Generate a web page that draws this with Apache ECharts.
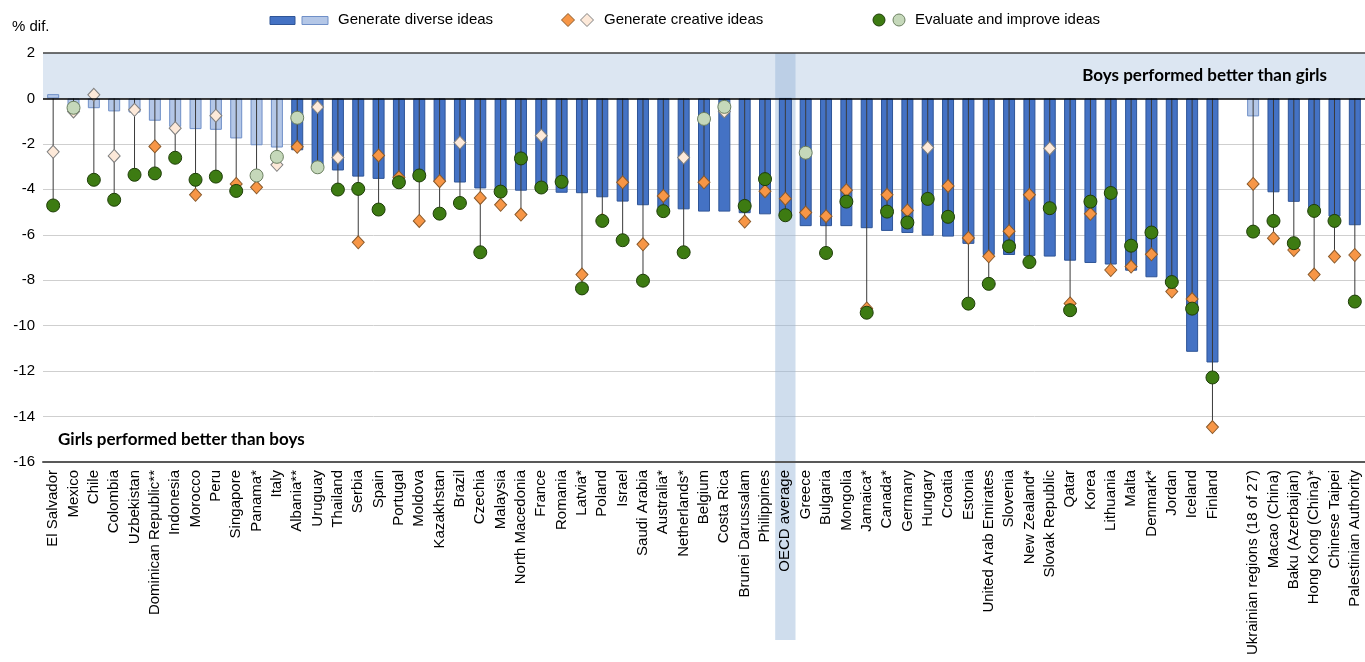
<!DOCTYPE html>
<html><head><meta charset="utf-8">
<script src="https://cdn.jsdelivr.net/npm/echarts@6/dist/echarts.min.js"></script>
<style>html,body{margin:0;padding:0;background:#fff}#c{width:1365px;height:662px}</style>
</head><body><div id="c"></div>
<script>
const categories = ["El Salvador","Mexico","Chile","Colombia","Uzbekistan","Dominican Republic**","Indonesia","Morocco","Peru","Singapore","Panama*","Italy","Albania**","Uruguay","Thailand","Serbia","Spain","Portugal","Moldova","Kazakhstan","Brazil","Czechia","Malaysia","North Macedonia","France","Romania","Latvia*","Poland","Israel","Saudi Arabia","Australia*","Netherlands*","Belgium","Costa Rica","Brunei Darussalam","Philippines","OECD average","Greece","Bulgaria","Mongolia","Jamaica*","Canada*","Germany","Hungary","Croatia","Estonia","United Arab Emirates","Slovenia","New Zealand*","Slovak Republic","Qatar","Korea","Lithuania","Malta","Denmark*","Jordan","Iceland","Finland","","Ukrainian regions (18 of 27)","Macao (China)","Baku (Azerbaijan)","Hong Kong (China)*","Chinese Taipei","Palestinian Authority"];

// Generate diverse ideas (bars)
const diverse = [0.19,-0.40,-0.43,-0.57,-0.62,-0.98,-1.25,-1.35,-1.38,-1.76,-2.06,-2.16,-2.28,-3.05,-3.17,-3.44,-3.54,-3.56,-3.58,-3.66,-3.70,-3.96,-4.02,-4.06,-4.10,-4.15,-4.17,-4.35,-4.54,-4.70,-4.83,-4.88,-4.98,-4.98,-5.05,-5.10,-5.20,-5.62,-5.62,-5.62,-5.71,-5.83,-5.92,-6.04,-6.08,-6.40,-6.89,-6.89,-6.93,-6.96,-7.14,-7.24,-7.31,-7.58,-7.87,-8.10,-11.15,-11.62,null,-0.79,-4.13,-4.55,-4.95,-5.20,-5.58];
const diverseSig = [0,0,0,0,0,0,0,0,0,0,0,0,1,1,1,1,1,1,1,1,1,1,1,1,1,1,1,1,1,1,1,1,1,1,1,1,1,1,1,1,1,1,1,1,1,1,1,1,1,1,1,1,1,1,1,1,1,1,0,0,1,1,1,1,1];

// Generate creative ideas (diamonds)
const creative = [-2.35,-0.57,0.16,-2.53,-0.50,-2.11,-1.31,-4.24,-0.76,-3.76,-3.91,-2.92,-2.13,-0.38,-2.60,-6.33,-2.51,-3.47,-5.39,-3.64,-1.94,-4.38,-4.68,-5.11,-1.64,-3.65,-7.75,-5.35,-3.69,-6.42,-4.29,-2.60,-3.69,-0.57,-5.42,-4.08,-4.41,-5.02,-5.18,-4.04,-9.24,-4.24,-4.93,-2.16,-3.85,-6.14,-6.95,-5.84,-4.24,-2.20,-9.02,-5.08,-7.55,-7.40,-6.86,-8.50,-8.83,-14.46,null,-3.76,-6.15,-6.67,-7.75,-6.96,-6.89];
const creativeSig = [0,0,0,0,0,1,0,1,0,1,1,0,1,0,0,1,1,1,1,1,0,1,1,1,0,1,1,1,1,1,1,0,1,0,1,1,1,1,1,1,1,1,1,0,1,1,1,1,1,0,1,1,1,1,1,1,1,1,0,1,1,1,1,1,1];

// Evaluate and improve ideas (circles)
const evaluate = [-4.71,-0.41,-3.58,-4.46,-3.36,-3.30,-2.61,-3.58,-3.44,-4.07,-3.39,-2.57,-0.85,-3.03,-4.01,-3.98,-4.89,-3.69,-3.39,-5.07,-4.60,-6.77,-4.10,-2.64,-3.92,-3.67,-8.36,-5.39,-6.24,-8.02,-4.96,-6.77,-0.90,-0.37,-4.73,-3.55,-5.14,-2.39,-6.80,-4.54,-9.43,-4.98,-5.46,-4.42,-5.21,-9.03,-8.16,-6.51,-7.20,-4.83,-9.32,-4.54,-4.16,-6.48,-5.90,-8.08,-9.25,-12.28,null,-5.86,-5.39,-6.37,-4.95,-5.39,-8.94];
const evaluateSig = [1,0,1,1,1,1,1,1,1,1,0,0,0,0,1,1,1,1,1,1,1,1,1,1,1,1,1,1,1,1,1,1,0,0,1,1,1,0,1,1,1,1,1,1,1,1,1,1,1,1,1,1,1,1,1,1,1,1,0,1,1,1,1,1,1];

const highlightCategory = "OECD average";
const yMin = -16, yMax = 2, yStep = 2;
const boysBand = [2, 0];
const BAR_W = 12;

const C = {
  barDark: '#4472C4', barDarkB: '#2F5597', barLight: '#B4C7E7', barLightB: '#6F8FC7',
  diaDark: '#F79646', diaDarkB: '#8A5A2B', diaLight: '#FDE9D9', diaLightB: '#7F7F7F',
  cirDark: '#3D7B12', cirDarkB: '#1E3D08', cirLight: '#C5D8BA', cirLightB: '#6B7F60'
};
const FONT = "'Liberation Sans', Arial, sans-serif";

const barData = diverse.map((v, i) => v === null ? '-' : ({
  value: v,
  itemStyle: diverseSig[i] ? {color: C.barDark, borderColor: C.barDarkB} : {color: C.barLight, borderColor: C.barLightB}
}));
const diaData = creative.map((v, i) => v === null ? '-' : ({
  value: v,
  itemStyle: creativeSig[i] ? {color: C.diaDark, borderColor: C.diaDarkB} : {color: C.diaLight, borderColor: C.diaLightB}
}));
const cirData = evaluate.map((v, i) => v === null ? '-' : ({
  value: v,
  itemStyle: evaluateSig[i] ? {color: C.cirDark, borderColor: C.cirDarkB} : {color: C.cirLight, borderColor: C.cirLightB}
}));
const hi = categories.indexOf(highlightCategory);
// connector data: [categoryIndex, top, bottom, barValue, isHighlight]
const lineData = [];
categories.forEach((c, i) => {
  if (creative[i] === null || evaluate[i] === null) return;
  lineData.push([i, Math.max(0, creative[i], evaluate[i]), Math.min(0, creative[i], evaluate[i]), diverse[i], i === hi ? 1 : 0]);
});
// background shapes: [kind, categoryIndex, fromValue, toValue, barValue]
const bgData = [[0, 0, boysBand[0], boysBand[1], 0], [1, hi, yMax, yMin, diverse[hi]]];

const chart = echarts.init(document.getElementById('c'), null, {renderer: 'canvas'});

function graphics() {
  const g = [];
  const cy = 20;
  g.push({type: 'rect', z: 100, shape: {x: 270, y: 16.5, width: 25, height: 8}, style: {fill: C.barDark, stroke: C.barDarkB, lineWidth: 1}});
  g.push({type: 'rect', z: 100, shape: {x: 302, y: 16.5, width: 26, height: 8}, style: {fill: C.barLight, stroke: C.barLightB, lineWidth: 1}});
  g.push({type: 'text', z: 100, x: 338, y: cy, style: {text: 'Generate diverse ideas', font: '15px ' + FONT, fill: '#000', verticalAlign: 'middle'}});
  const dia = (x, fill, stroke) => ({type: 'polygon', z: 100, shape: {points: [[x, cy - 6.5], [x + 6.5, cy], [x, cy + 6.5], [x - 6.5, cy]]}, style: {fill, stroke, lineWidth: 1}});
  g.push(dia(568, C.diaDark, C.diaDarkB));
  g.push(dia(587, C.diaLight, C.diaLightB));
  g.push({type: 'text', z: 100, x: 604, y: cy, style: {text: 'Generate creative ideas', font: '15px ' + FONT, fill: '#000', verticalAlign: 'middle'}});
  g.push({type: 'circle', z: 100, shape: {cx: 879, cy: cy, r: 6}, style: {fill: C.cirDark, stroke: C.cirDarkB, lineWidth: 1}});
  g.push({type: 'circle', z: 100, shape: {cx: 899, cy: cy, r: 6}, style: {fill: C.cirLight, stroke: C.cirLightB, lineWidth: 1}});
  g.push({type: 'text', z: 100, x: 915, y: cy, style: {text: 'Evaluate and improve ideas', font: '15px ' + FONT, fill: '#000', verticalAlign: 'middle'}});
  g.push({type: 'text', z: 100, x: 12, y: 27, style: {text: '% dif.', font: '15px ' + FONT, fill: '#000', verticalAlign: 'middle'}});
  g.push({type: 'text', z: 100, x: 1327, y: 76, style: {text: 'Boys performed better than girls', font: 'bold 17px Lato, sans-serif', fill: '#000', align: 'right', verticalAlign: 'middle'}});
  g.push({type: 'text', z: 100, x: 58, y: 440, style: {text: 'Girls performed better than boys', font: 'bold 17px Lato, sans-serif', fill: '#000', align: 'left', verticalAlign: 'middle'}});
  return g;
}

const BAND_FILL = 'rgba(149,179,215,0.45)';
const option = {
  animation: false,
  grid: {left: 43, right: -7, top: 53, bottom: 200, containLabel: false},
  xAxis: {
    type: 'category', data: categories,
    axisLine: {onZero: false, lineStyle: {color: '#595959', width: 2}},
    axisTick: {show: false},
    axisLabel: {rotate: 90, interval: 0, margin: 8, fontSize: 15, fontFamily: FONT, color: '#000'},
    splitLine: {show: false}
  },
  yAxis: {
    type: 'value', min: yMin, max: yMax, interval: yStep,
    axisLine: {show: false}, axisTick: {show: false},
    axisLabel: {fontSize: 15, fontFamily: FONT, color: '#000', margin: 8},
    splitLine: {lineStyle: {color: '#CFCFCF', width: 1}}
  },
  series: [
    {
      type: 'custom', name: 'background', data: bgData, z: 0, silent: true, clip: false,
      encode: {x: 1, y: [2, 3]},
      renderItem: function (params, api) {
        const kind = api.value(0);
        const a = api.coord([api.value(1), api.value(2)]);
        const b = api.coord([api.value(1), api.value(3)]);
        if (kind === 0) {
          const cs = params.coordSys;
          return {type: 'rect', shape: {x: cs.x, y: a[1], width: cs.width, height: b[1] - a[1]}, style: {fill: '#DCE6F2'}};
        }
        const w = api.size([1, 0])[0];
        const zero = api.coord([api.value(1), 0]);
        const barEnd = api.coord([api.value(1), api.value(4)]);
        const x0 = a[0] - w / 2, side = (w - BAR_W) / 2;
        const bottom = 640;
        return {type: 'group', children: [
          {type: 'rect', shape: {x: x0, y: a[1], width: w, height: zero[1] - a[1]}, style: {fill: BAND_FILL}},
          {type: 'rect', shape: {x: x0, y: zero[1], width: side, height: barEnd[1] - zero[1]}, style: {fill: BAND_FILL}},
          {type: 'rect', shape: {x: x0 + w - side, y: zero[1], width: side, height: barEnd[1] - zero[1]}, style: {fill: BAND_FILL}},
          {type: 'rect', shape: {x: x0, y: barEnd[1], width: w, height: bottom - barEnd[1]}, style: {fill: BAND_FILL}}
        ]};
      }
    },
    {
      type: 'bar', name: 'Generate diverse ideas', data: barData, barWidth: BAR_W, z: 10,
      itemStyle: {borderWidth: 1},
      markLine: {silent: true, symbol: 'none', label: {show: false}, animation: false, z: 20,
        data: [
          {yAxis: 0, lineStyle: {color: '#000', width: 1.5, type: 'solid'}},
          {yAxis: 2, lineStyle: {color: '#404040', width: 1.5, type: 'solid'}}
        ]}
    },
    {
      type: 'custom', name: 'range', data: lineData, z: 11,
      encode: {x: 0, y: [1, 2]},
      renderItem: function (params, api) {
        const idx = api.value(0);
        const a = api.coord([idx, api.value(1)]);
        const b = api.coord([idx, api.value(2)]);
        const children = [];
        if (api.value(4) === 1) {
          // highlighted column: re-draw its bar on top of the highlight band
          const z0 = api.coord([idx, 0]);
          const e = api.coord([idx, api.value(3)]);
          const sig = diverseSig[idx];
          children.push({type: 'rect', shape: {x: z0[0] - BAR_W / 2, y: Math.min(z0[1], e[1]), width: BAR_W, height: Math.abs(e[1] - z0[1])},
            style: {fill: sig ? C.barDark : C.barLight, stroke: sig ? C.barDarkB : C.barLightB, lineWidth: 1}});
        }
        children.push({type: 'line', shape: {x1: a[0], y1: a[1], x2: b[0], y2: b[1]}, style: {stroke: '#3A3A3A', lineWidth: 1}});
        return {type: 'group', children: children};
      }
    },
    {
      type: 'scatter', name: 'Generate creative ideas', data: diaData, z: 12,
      symbol: 'diamond', symbolSize: [12, 13], itemStyle: {borderWidth: 1, opacity: 1}
    },
    {
      type: 'scatter', name: 'Evaluate and improve ideas', data: cirData, z: 13,
      symbol: 'circle', symbolSize: 13, itemStyle: {borderWidth: 1, opacity: 1}
    }
  ],
  graphic: graphics()
};
chart.setOption(option);
</script></body></html>
